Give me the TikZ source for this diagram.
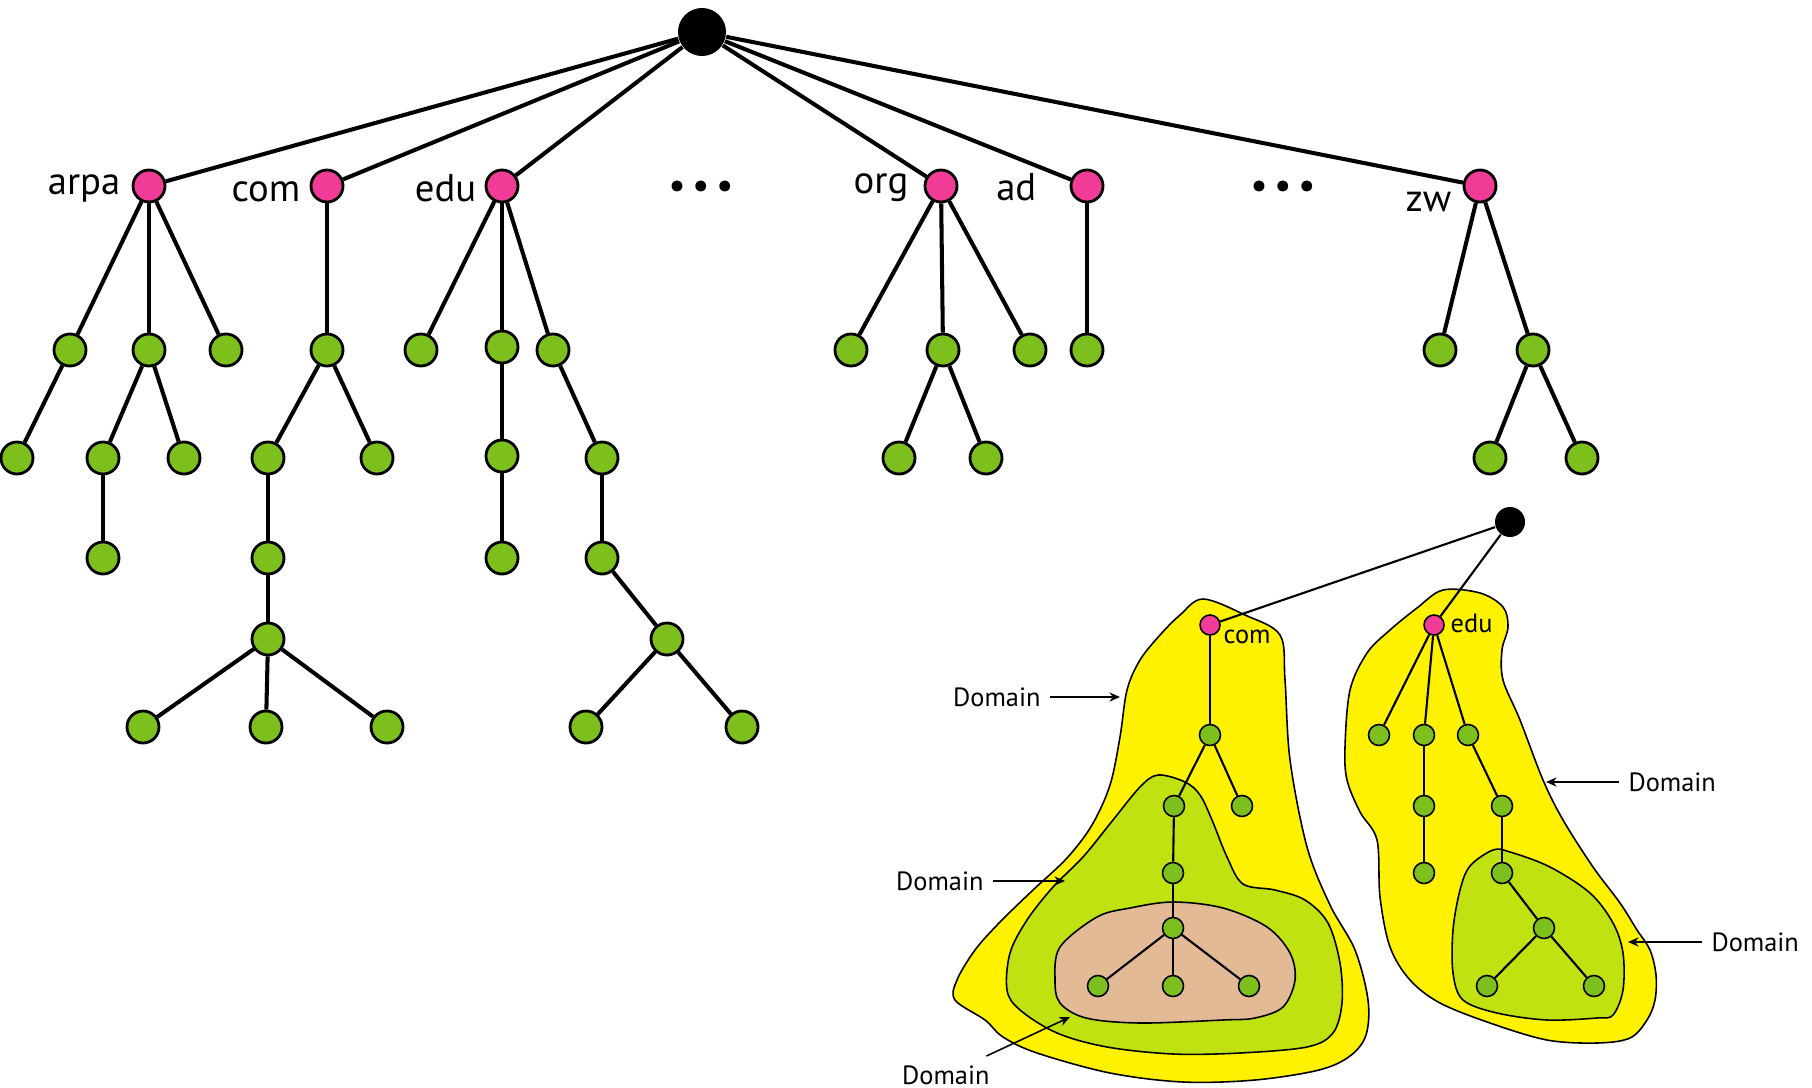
\documentclass[tikz,border=0pt]{standalone}
\usepackage{fontspec}
\setmainfont{PT Sans}
\usetikzlibrary{arrows.meta}
\definecolor{tldpink}{RGB}{240,60,150}
\definecolor{leafgreen}{RGB}{125,192,30}
\definecolor{zonegreen}{RGB}{192,226,16}
\definecolor{zonetan}{RGB}{226,186,150}
\tikzset{
  bignode/.style={circle, draw=black, line width=0.8pt, inner sep=0pt, minimum size=0.32cm},
  tld/.style={bignode, fill=tldpink},
  leaf/.style={bignode, fill=leafgreen},
  smallnode/.style={circle, draw=black, line width=0.45pt, inner sep=0pt, minimum size=0.21cm},
  stld/.style={smallnode, fill=tldpink, minimum size=0.2cm},
  sleaf/.style={smallnode, fill=leafgreen},
  lbl/.style={font=\fontsize{11}{13}\selectfont, inner sep=0pt},
  slbl/.style={font=\fontsize{7.5}{9}\selectfont, inner sep=0pt},
  domlbl/.style={font=\fontsize{7.5}{9}\selectfont, inner sep=2.5pt},
  zone/.style={draw=black, line width=0.45pt},
  pointer/.style={-{Stealth[length=3pt,width=2.6pt]}, line width=0.45pt},
}
\begin{document}
\begin{tikzpicture}[x=0.01cm,y=-0.01cm]
\useasboundingbox (0,0) rectangle (1812,1088);
% the whole name space
\node[circle, fill=black, inner sep=0pt, minimum size=0.48cm] (root) at (702,32) {};
\foreach \n/\x in {arpa/149,com/327,edu/502,org/941,ad/1087,zw/1480}
  \node[tld] (\n) at (\x,186) {};
\foreach \n/\x/\y in {a1/70/350,a2/149/350,a3/226/350,a11/17/458,a21/103/458,a22/184/458,a211/103/558,
    c1/327/350,c11/268/458,c12/377/458,c111/268/558,c1111/268/639,cx1/143/727,cx2/266/727,cx3/387/727,
    d1/421/350,d2/502/347,d3/553/350,d21/502/456,d211/502/558,d31/602/458,d311/602/558,d3111/667/639,dx1/586/727,dx2/742/727,
    o1/851/350,o2/943/350,o3/1030/350,o21/899/458,o22/986/458,
    ad1/1087/350,
    z1/1440/350,z2/1533/350,z21/1490/458,z22/1582/458}
  \node[leaf] (\n) at (\x,\y) {};
\foreach \a/\b in {root/arpa,root/com,root/edu,root/org,root/ad,root/zw,
    arpa/a1,arpa/a2,arpa/a3,a1/a11,a2/a21,a2/a22,a21/a211,
    com/c1,c1/c11,c1/c12,c11/c111,c111/c1111,c1111/cx1,c1111/cx2,c1111/cx3,
    edu/d1,edu/d2,edu/d3,d2/d21,d21/d211,d3/d31,d31/d311,d311/d3111,d3111/dx1,d3111/dx2,
    org/o1,org/o2,org/o3,o2/o21,o2/o22,
    ad/ad1,
    zw/z1,zw/z2,z2/z21,z2/z22}
  \draw[line width=1.15pt] (\a) -- (\b);
\node[lbl, anchor=base east] (arpa-t) at (121,195) {arpa};
\node[lbl, anchor=base east] (com-t) at (301,202) {com};
\node[lbl, anchor=base east] (edu-t) at (477,202) {edu};
\node[lbl, anchor=base east] (org-t) at (909,193) {org};
\node[lbl, anchor=base east] (ad-t) at (1037,201) {ad};
\node[lbl, anchor=base east] (zw-t) at (1452,212) {zw};
\node[lbl] (dots1) at (701,190) {\textbullet\,\textbullet\,\textbullet};
\node[lbl] (dots2) at (1283,190) {\textbullet\,\textbullet\,\textbullet};
% zones
\draw[zone, fill=yellow] plot[smooth cycle, tension=0.55] coordinates {(1203,599) (1245,615) (1280,635) (1285,680) (1290,760) (1307,847) (1330,905) (1355,950) (1368,1000) (1366,1035) (1350,1056) (1319,1070) (1255,1080) (1183,1082) (1110,1073) (1037,1053) (1003,1037) (985,1020) (955,1000) (957,980) (975,950) (1000,922) (1033,890) (1067,858) (1092,825) (1110,785) (1120,737) (1127,690) (1140,660) (1160,635) (1180,615)};
\draw[zone, fill=zonegreen] plot[smooth cycle, tension=0.55] coordinates {(1158,775) (1185,782) (1200,795) (1212,820) (1227,857) (1243,884) (1275,890) (1305,900) (1328,923) (1340,963) (1342,1003) (1333,1033) (1307,1047) (1240,1053) (1173,1054) (1107,1047) (1057,1033) (1020,1010) (1007,990) (1010,953) (1027,920) (1053,887) (1083,857) (1113,820) (1140,787)};
\draw[zone, fill=zonetan] plot[smooth cycle, tension=0.55] coordinates {(1173,902) (1223,908) (1267,927) (1290,953) (1295,980) (1283,1007) (1255,1018) (1223,1020) (1140,1023) (1086,1018) (1060,1003) (1055,980) (1060,947) (1097,917) (1130,908)};
\draw[zone, fill=yellow] plot[smooth cycle, tension=0.55] coordinates {(1443,590) (1480,593) (1503,607) (1508,627) (1502,650) (1503,680) (1520,720) (1543,780) (1563,820) (1593,867) (1620,903) (1637,930) (1650,950) (1656,975) (1655,1000) (1647,1020) (1630,1038) (1597,1043) (1547,1040) (1490,1023) (1440,1003) (1410,980) (1390,947) (1380,897) (1377,840) (1360,812) (1347,780) (1345,747) (1350,690) (1367,653) (1390,630) (1417,608)};
\draw[zone, fill=zonegreen] plot[smooth cycle, tension=0.55] coordinates {(1493,850) (1510,852) (1550,867) (1590,893) (1613,923) (1623,953) (1623,990) (1613,1015) (1597,1018) (1547,1020) (1497,1013) (1463,1000) (1453,973) (1453,930) (1460,890) (1470,866)};
% the zones' trees
\node[circle, fill=black, inner sep=0pt, minimum size=0.3cm] (root2) at (1510,522) {};
\node[stld] (scom) at (1210,625) {};
\node[stld] (sedu) at (1434,625) {};
\foreach \n/\x/\y in {m1/1210/735,m2/1174/806,m3/1242/806,m4/1173/873,m5/1173/928,m6/1098/986,m7/1173/986,m8/1249/986,
    e1/1379/735,e2/1424/735,e3/1468/735,e4/1424/806,e5/1424/873,e6/1502/806,e7/1502/873,e8/1544/928,e9/1487/986,e10/1594/986}
  \node[sleaf] (\n) at (\x,\y) {};
\foreach \a/\b in {root2/scom,root2/sedu,scom/m1,m1/m2,m1/m3,m2/m4,m4/m5,m5/m6,m5/m7,m5/m8,
    sedu/e1,sedu/e2,sedu/e3,e2/e4,e4/e5,e3/e6,e6/e7,e7/e8,e8/e9,e8/e10}
  \draw[line width=0.6pt] (\a) -- (\b);
\node[slbl, anchor=base west] (scom-t) at (1223,643) {com};
\node[slbl, anchor=base west] (sedu-t) at (1450,632) {edu};
% pointers
\node[domlbl, anchor=east] (dom1) at (1050,697) {Domain};
\node[domlbl, anchor=east] (dom2) at (993,881) {Domain};
\node[domlbl, anchor=east] (dom3) at (999,1075) {Domain};
\node[domlbl, anchor=west] (dom4) at (1619,782) {Domain};
\node[domlbl, anchor=west] (dom5) at (1702,942) {Domain};
\coordinate (dom1-tip) at (1120,697);
\coordinate (dom2-tip) at (1065,881);
\coordinate (dom3-tip) at (1070,1017);
\coordinate (dom4-tip) at (1546,782);
\coordinate (dom5-tip) at (1628,942);
\foreach \d in {1,...,5} \draw[pointer] (dom\d) -- (dom\d-tip);
\end{tikzpicture}
\end{document}
